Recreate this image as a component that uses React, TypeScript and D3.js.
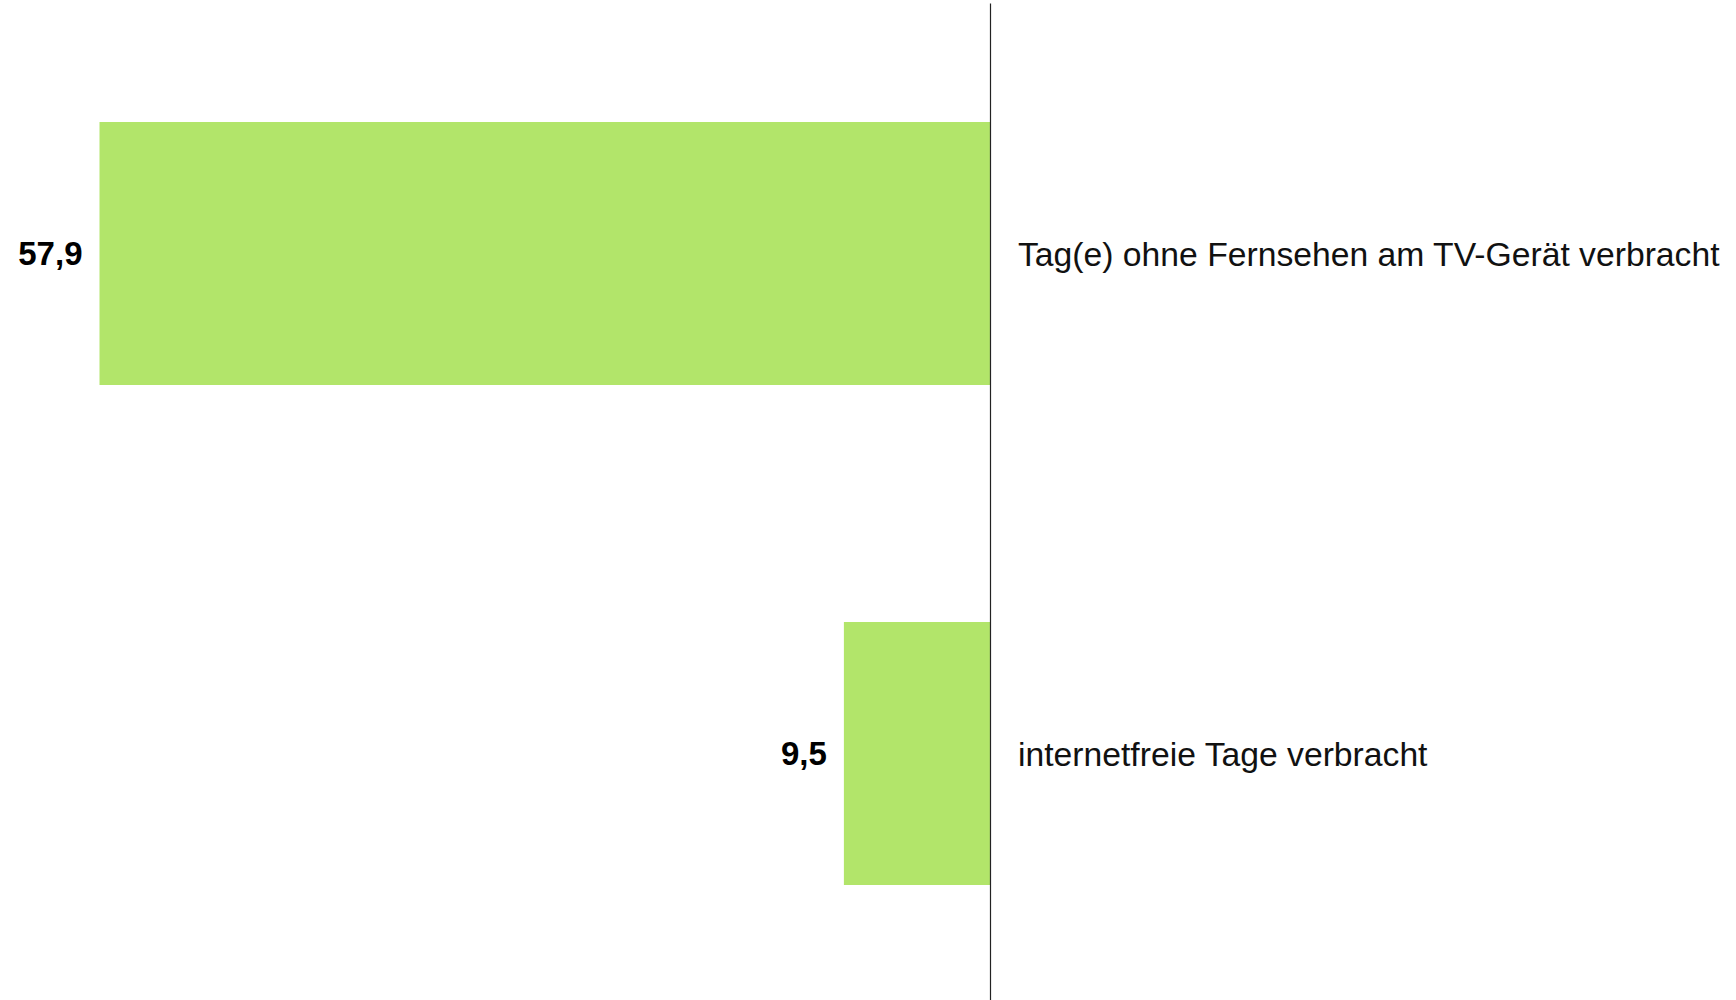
import React from 'react'
import * as d3 from 'd3'

// values in percent, German decimal comma in labels
const categories = ['Tag(e) ohne Fernsehen am TV-Gerät verbracht', 'internetfreie Tage verbracht']
const values = [57.9, 9.5]
const valueLabels = ['57,9', '9,5']

const WIDTH = 1736
const HEIGHT = 1000
const BAR_COLOR = '#b2e56a'
const FONT = '"Liberation Sans", Arial, sans-serif'

export default function App() {
  const zeroX = 990

  const x = d3.scaleLinear().domain([0, 57.9]).range([zeroX, 99.5])

  const y = d3
    .scaleBand<string>()
    .domain(categories)
    .range([3.5, 1003.5])
    .paddingInner(0.474)
    .paddingOuter(0.237)

  const data = categories.map((c, i) => ({ category: c, value: values[i], label: valueLabels[i] }))

  return (
    <svg
      width={WIDTH}
      height={HEIGHT}
      style={{ position: 'absolute', left: 0, top: 0, background: '#fff' }}
      fontFamily={FONT}
    >
      {data.map((d) => {
        const yc = (y(d.category) ?? 0) + y.bandwidth() / 2
        return (
          <g key={d.category}>
            <rect
              x={x(d.value)}
              y={y(d.category)}
              width={zeroX - x(d.value)}
              height={y.bandwidth()}
              fill={BAR_COLOR}
            />
            <text
              x={x(d.value) - 17}
              y={yc}
              dy="0.36em"
              textAnchor="end"
              fontSize={33}
              fontWeight="bold"
              fill="#000"
            >
              {d.label}
            </text>
            <text x={zeroX + 28} y={yc} dy="0.36em" fontSize={33.7} fill="#111">
              {d.category}
            </text>
          </g>
        )
      })}
      {/* zero axis */}
      <line x1={zeroX + 0.5} x2={zeroX + 0.5} y1={3.5} y2={HEIGHT} stroke="#222" strokeWidth={1.2} />
    </svg>
  )
}
